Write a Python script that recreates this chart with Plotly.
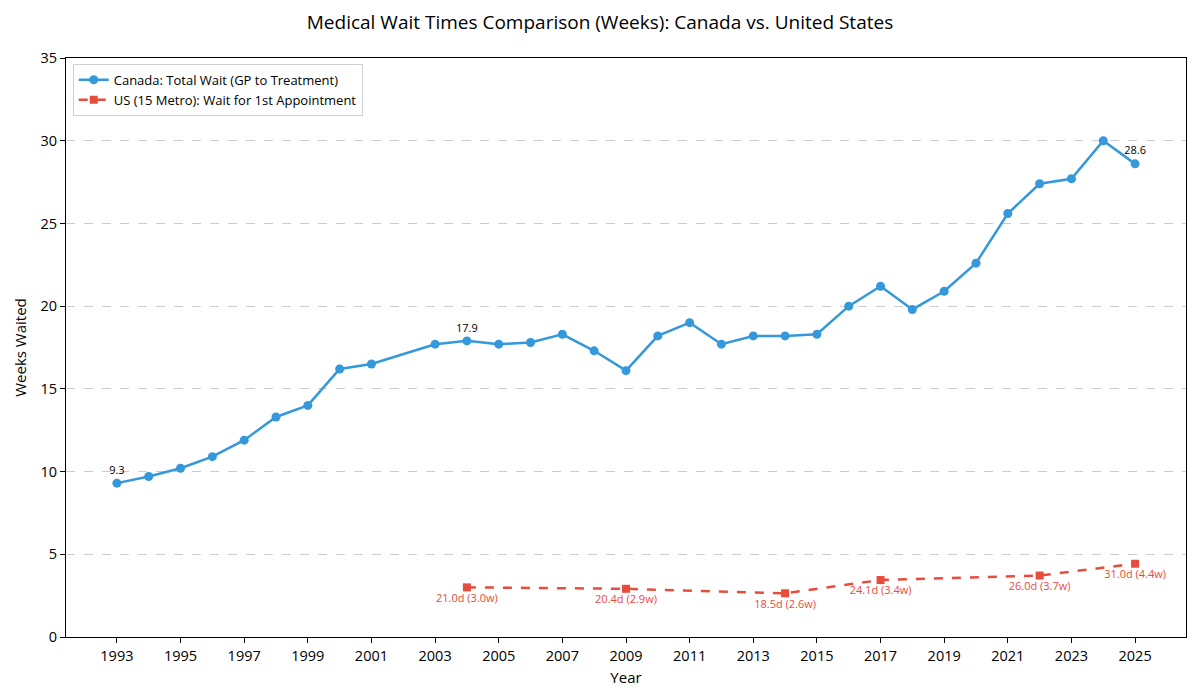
import plotly.graph_objects as go

# Canada: total wait, GP referral to treatment (weeks)
ca_years = [1993, 1994, 1995, 1996, 1997, 1998, 1999, 2000, 2001,
            2003, 2004, 2005, 2006, 2007, 2008, 2009, 2010, 2011, 2012,
            2013, 2014, 2015, 2016, 2017, 2018, 2019, 2020, 2021, 2022,
            2023, 2024, 2025]
ca_weeks = [9.3, 9.7, 10.2, 10.9, 11.9, 13.3, 14.0, 16.2, 16.5,
            17.7, 17.9, 17.7, 17.8, 18.3, 17.3, 16.1, 18.2, 19.0, 17.7,
            18.2, 18.2, 18.3, 20.0, 21.2, 19.8, 20.9, 22.6, 25.6, 27.4,
            27.7, 30.0, 28.6]
ca_labelled = [1993, 2004, 2025]

# US (15 metro areas): wait for 1st appointment (days)
us_years = [2004, 2009, 2014, 2017, 2022, 2025]
us_days = [21.0, 20.4, 18.5, 24.1, 26.0, 31.0]
us_weeks = [d / 7 for d in us_days]

tick_years = list(range(1993, 2026, 2))

CA_COLOR = "#3498db"
US_COLOR = "#e74c3c"
FONT = "Open Sans"

fig = go.Figure()

fig.add_trace(go.Scatter(
    x=ca_years, y=ca_weeks,
    mode="lines+markers+text",
    name="Canada: Total Wait (GP to Treatment)",
    line=dict(color=CA_COLOR, width=2.5),
    marker=dict(color=CA_COLOR, size=9, symbol="circle"),
    text=[f"{v:.1f}" if y in ca_labelled else "" for y, v in zip(ca_years, ca_weeks)],
    textposition="top center",
    textfont=dict(size=11, color="black"),
))

fig.add_trace(go.Scatter(
    x=us_years, y=us_weeks,
    mode="lines+markers+text",
    name="US (15 Metro): Wait for 1st Appointment",
    line=dict(color=US_COLOR, width=2.5, dash="dash"),
    marker=dict(color=US_COLOR, size=8, symbol="square"),
    text=[f"{d:.1f}d ({w:.1f}w)" for d, w in zip(us_days, us_weeks)],
    textposition="bottom center",
    textfont=dict(size=11, color=US_COLOR),
))

fig.update_layout(
    width=1200, height=700,
    paper_bgcolor="white", plot_bgcolor="white",
    font=dict(family=FONT, color="black", size=14.5),
    title=dict(text="Medical Wait Times Comparison (Weeks): Canada vs. United States",
               x=0.5, xanchor="center", y=1 - 22 / 700, yanchor="middle",
               font=dict(size=19)),
    margin=dict(l=66, r=14, t=58, b=63, autoexpand=False),
    legend=dict(x=0.006, y=0.99, xanchor="left", yanchor="top",
                bgcolor="rgba(255,255,255,0.9)", bordercolor="#d0d0d0",
                borderwidth=1, font=dict(size=13), tracegroupgap=2),
    showlegend=True,
)

fig.update_xaxes(
    title=dict(text="Year", standoff=8, font=dict(size=15)),
    range=[1991.4, 2026.6],
    tickmode="array", tickvals=tick_years,
    ticks="outside", ticklen=5, tickcolor="black",
    showgrid=False, zeroline=False, automargin=False,
    showline=True, linecolor="black", linewidth=1.2, mirror=True,
)
fig.update_yaxes(
    title=dict(text="Weeks Waited", standoff=10, font=dict(size=15)),
    range=[0, 35], dtick=5,
    ticks="outside", ticklen=5, tickcolor="black",
    showgrid=True, gridcolor="#cccccc", griddash="dash", gridwidth=1,
    zeroline=False, automargin=False,
    showline=True, linecolor="black", linewidth=1.2, mirror=True,
)

fig.write_html(
    "out.html",
    config={"displayModeBar": False},
    post_script="document.body.style.margin='0';document.body.style.overflow='hidden';",
)
